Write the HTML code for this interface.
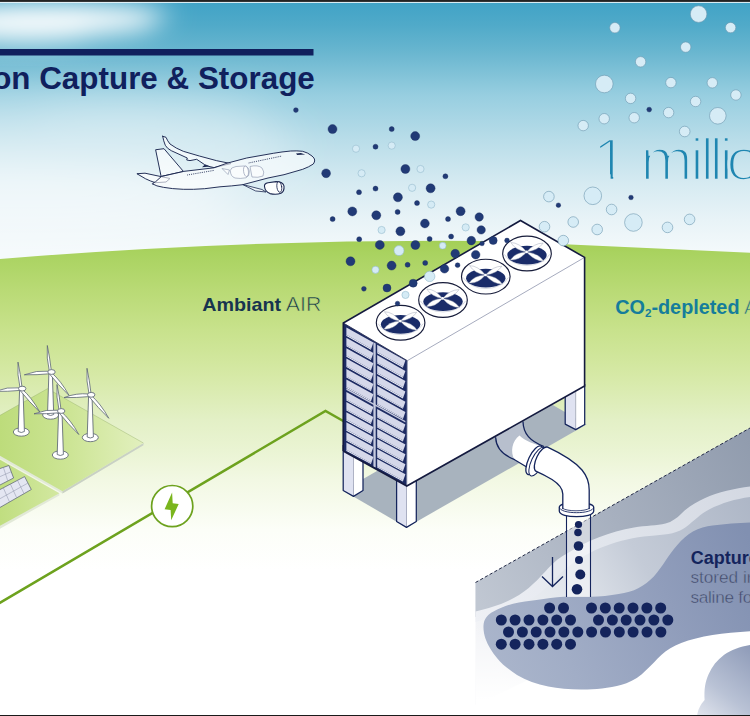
<!DOCTYPE html>
<html lang="en"><head><meta charset="utf-8"><title>Carbon Capture &amp; Storage</title>
<style>html,body{margin:0;padding:0;background:#fff;overflow:hidden}svg{display:block}</style></head>
<body>
<svg width="750" height="716" viewBox="0 0 750 716">
<defs>
<linearGradient id="sky" gradientUnits="userSpaceOnUse" x1="0" y1="0" x2="0" y2="250">
<stop offset="0" stop-color="#3fa2c6"/><stop offset="0.1" stop-color="#50aac9"/><stop offset="0.2" stop-color="#67b5cf"/><stop offset="0.3" stop-color="#82c3d8"/><stop offset="0.38" stop-color="#97cee0"/><stop offset="0.56" stop-color="#b9dde9"/><stop offset="0.74" stop-color="#d7ebf2"/><stop offset="0.88" stop-color="#e8f3f7"/><stop offset="1" stop-color="#f3f9fb"/>
</linearGradient>
<linearGradient id="sky1" href="#sky"/>
<linearGradient id="grass" gradientUnits="userSpaceOnUse" x1="0" y1="241" x2="0" y2="571">
<stop offset="0" stop-color="#a4cf57"/><stop offset="0.042" stop-color="#aad361"/><stop offset="0.148" stop-color="#b9da75"/><stop offset="0.27" stop-color="#c8e28c"/><stop offset="0.406" stop-color="#d6e9a6"/><stop offset="0.542" stop-color="#e3f0c6"/><stop offset="0.633" stop-color="#eaf4d3"/><stop offset="0.724" stop-color="#f2f8e3"/><stop offset="0.876" stop-color="#fcfef8"/><stop offset="1" stop-color="#ffffff"/>
</linearGradient>
<filter id="blur12" x="-50%" y="-50%" width="200%" height="200%"><feGaussianBlur stdDeviation="12"/></filter>
<filter id="blur25" x="-50%" y="-100%" width="200%" height="300%"><feGaussianBlur stdDeviation="22"/></filter>
<linearGradient id="plat" gradientUnits="userSpaceOnUse" x1="0" y1="0" x2="143" y2="0">
<stop offset="0" stop-color="#bddc7b"/><stop offset="0.5" stop-color="#cde596"/><stop offset="1" stop-color="#e2f0be"/>
</linearGradient>
<linearGradient id="plat2" gradientUnits="userSpaceOnUse" x1="0" y1="0" x2="60" y2="0">
<stop offset="0" stop-color="#c0de80"/><stop offset="1" stop-color="#d3e8a1"/>
</linearGradient>
<filter id="blur6" x="-50%" y="-50%" width="200%" height="200%"><feGaussianBlur stdDeviation="6"/></filter>
<linearGradient id="ug" gradientUnits="userSpaceOnUse" x1="750" y1="490" x2="480" y2="640">
<stop offset="0" stop-color="#adb6c6"/><stop offset="0.42" stop-color="#c4cbd7"/><stop offset="0.69" stop-color="#e3e7ed"/><stop offset="1" stop-color="#f3f4f7"/>
</linearGradient>
<linearGradient id="ugA" gradientUnits="userSpaceOnUse" x1="750" y1="440" x2="476" y2="596">
<stop offset="0" stop-color="#919cae"/><stop offset="0.5" stop-color="#a7b0bf"/><stop offset="1" stop-color="#c0c7d2"/>
</linearGradient>
<linearGradient id="ugfade" gradientUnits="userSpaceOnUse" x1="0" y1="625" x2="0" y2="700">
<stop offset="0" stop-color="#fff" stop-opacity="0"/><stop offset="1" stop-color="#fff" stop-opacity="1"/>
</linearGradient>
<linearGradient id="ugband" gradientUnits="userSpaceOnUse" x1="750" y1="480" x2="480" y2="630">
<stop offset="0" stop-color="#d3d8e2"/><stop offset="0.5" stop-color="#e1e5ec"/><stop offset="1" stop-color="#eef0f5"/>
</linearGradient>
<linearGradient id="blob" gradientUnits="userSpaceOnUse" x1="750" y1="540" x2="490" y2="660">
<stop offset="0" stop-color="#8190b1"/><stop offset="0.35" stop-color="#909dbb"/><stop offset="0.75" stop-color="#a1adc6"/><stop offset="1" stop-color="#aab5cb"/>
</linearGradient>
<linearGradient id="blob2" gradientUnits="userSpaceOnUse" x1="750" y1="640" x2="690" y2="716">
<stop offset="0" stop-color="#8b98b6"/><stop offset="0.6" stop-color="#b9c2d5"/><stop offset="1" stop-color="#e6e9f0"/>
</linearGradient>
<g id="fan"><ellipse cx="0" cy="0" rx="24.3" ry="17.4" fill="#fff" stroke="#171c3a" stroke-width="1.15"/><path d="M-22.6,3.5 A24.3,17.4 0 0 0 22.6,3.5" fill="none" stroke="#b9bdcc" stroke-width="0.6" transform="translate(0,-2.6)"/><ellipse cx="0" cy="1.6" rx="19.7" ry="9.4" fill="#1a2c69"/><g fill="#fff" stroke="#9aa0b4" stroke-width="0.45"><path d="M-0.4,-1.6 Q-7.4,-10.7 -16.2,-11.0 Q-11.7,-3.4 -0.4,-1.6Z"/><path d="M-0.4,-1.6 Q7.4,7.6 16.6,7.6 Q11.6,-0.1 -0.4,-1.6Z"/><path d="M-0.4,-1.6 Q11.1,-3.0 16.1,-10.4 Q7.2,-10.4 -0.4,-1.6Z"/><path d="M-0.4,-1.6 Q-11.8,-1.1 -16.6,6.4 Q-7.8,7.2 -0.4,-1.6Z"/></g><circle cx="-0.4" cy="-1.6" r="1.3" fill="#fff"/></g>
</defs>
<rect x="0" y="0" width="750" height="716" fill="url(#sky)"/>
<g filter="url(#blur12)" fill="#fff"><ellipse cx="45" cy="20" rx="115" ry="17" opacity="0.95"/><ellipse cx="20" cy="32" rx="75" ry="13" opacity="0.6"/><ellipse cx="115" cy="14" rx="60" ry="9" opacity="0.5"/></g>
<g filter="url(#blur25)" fill="#fff"><ellipse cx="40" cy="150" rx="260" ry="50" opacity="0.35"/><ellipse cx="0" cy="205" rx="240" ry="40" opacity="0.45"/><ellipse cx="150" cy="112" rx="120" ry="14" opacity="0.3"/></g>
<path d="M0,259 Q220,240.7 440,240.7 Q520,240.7 570,244.5 Q660,248.6 750,252.8 L750,716 L0,716Z" fill="url(#grass)"/>
<rect x="0" y="49" width="313.5" height="6.5" fill="#10205d"/>
<text x="314.8" y="89" text-anchor="end" font-family="'Liberation Sans', sans-serif" font-weight="bold" font-size="31.5" fill="#10205d" textLength="394.2" lengthAdjust="spacingAndGlyphs">Carbon Capture &amp; Storage</text>
<g id="plane" stroke="#1b2750" stroke-width="0.95" fill="#ffffff" fill-opacity="0.62" stroke-linejoin="round" stroke-linecap="round">
<path d="M162.7,136.3 L166,137.3 Q167.5,141 170,144 Q176,148.5 183.3,151.3 L199.3,156 L216.7,160.7 L231,163.6 L214,167.6 L210,166.7 L204.7,164.7 L196.7,159.3 L190,160.6 L186.7,160 L187.3,158 L171.3,150.7 Q167,148.5 165.3,145.3 Q163.5,141 162.7,136.3Z"/>
<path d="M156,149.7 L164,148.7 L183.5,171.5 L161.5,176.4Z"/>
<path d="M137.3,173.7 L145,173.2 L170,178.5 L166,182 L155.3,182.7 Q150,181 146,179Z"/>
<path d="M152.7,184 Q156,186.2 163.3,187.3 Q172,188.9 183.3,189.3 Q193,189.6 204.7,188.7 L220,186.8 Q232,186 242.7,184.7 L268,178 L284,174.7 L302.7,169.3 Q309,167 313.3,164 Q314.8,162 314.7,160 Q314.5,158 312,156 Q308,152.6 302.7,151.3 Q297,150.6 290.7,151 Q282,151.8 273.3,153.3 L246.7,158 L227,163.2 L214,167.8 L183.5,171.4 L161.5,176.4 L155.5,181.8 Q152,182.8 152.7,184Z"/>
<path d="M243,184.6 L262,189.5 L266,192 L256,191Z" stroke-width="0.8"/>
<path d="M264.5,186.5 Q264,183.5 268,182.7 L276,181.6 Q283,181.6 284,186 Q284.5,191.5 281,193.3 Q276,195 270,193.6 Q265,191.5 264.5,186.5Z" stroke-width="1.1" fill-opacity="0.9"/>
<ellipse cx="279.3" cy="187" rx="2.4" ry="5.4" transform="rotate(-8 279.3 187)" stroke-width="0.8"/>
</g>
<g stroke="#7d88a3" stroke-width="0.55" fill="#fff" fill-opacity="0.55" stroke-linejoin="round">
<path d="M250,166.5 Q258,164.5 262,168 Q265,172 263,176 Q258,178 252,177Z"/>
<path d="M230.3,170.5 Q230.5,167.5 236,166.5 L244,166 Q249,167 249.3,171.5 Q249.5,176.5 246,177.8 Q240,179 235,178 Q230.5,176.5 230.3,170.5Z"/>
<ellipse cx="246" cy="171.2" rx="2.4" ry="5.4" transform="rotate(-8 246 171.2)"/>
<path d="M222,168.5 L229.5,170 L228,174.5Z"/>
</g>
<g stroke="#1b2750" stroke-width="1" stroke-dasharray="0.8 1.1" fill="none">
<path d="M187.3,175 L214,170.4"/><path d="M248.7,163 L282,156"/>
</g>
<path d="M296,153.6 l4.8,-0.7 l4.4,1.6 l-8,0.6z" fill="#1b2750"/>
<path d="M202,167.2 L210,166.6 L204.7,164.8Z" fill="#1b2750"/>
<g id="farm">
<path d="M47.5,388.5 L143.4,443 L143.4,445.2 L62.5,493.6 L-5,455.4 L-5,418Z" fill="#e2e9d8"/>
<path d="M143.4,443 L143.4,445.2 L62.5,493.6 L62.5,491.3Z" fill="#c9d1c4"/>
<path d="M47.5,388.5 L143.4,443 L62.5,491.3 L-5,453 L-5,418Z" fill="url(#plat)"/>
<path d="M-5,418.2 L47.5,388.7 L143.4,443" fill="none" stroke="#9bb56c" stroke-width="0.6" stroke-opacity="0.75"/>
<path d="M-5,457 L59.3,493.2 L59.3,495.4 L-5,531.5Z" fill="#e2e9d8"/>
<path d="M-5,457 L59.3,493.2 L-5,528.5Z" fill="url(#plat2)"/>
</g>
<g fill="#e4e6f2" stroke="#555c6e" stroke-width="0.7">
<path d="M-2,469.2 L8.9,465.5 L13.6,478 L-2,486Z"/>
<path d="M-2,490.6 L24.6,476.6 L31.3,489.5 L-2,508.6Z"/>
</g>
<g stroke="#8b90a6" stroke-width="0.5" fill="none">
<path d="M3.4,467.4 L7.8,481 M-2,477.5 L11.2,471.7"/>
<path d="M3.3,487.8 L9.5,502 M10.4,484.1 L16.7,497.8 M17.5,480.4 L24,493.6 M-2,499.8 L28,483"/>
</g>
<g id="turbines"><ellipse cx="50.599999999999994" cy="415" rx="8" ry="4.2" fill="#fff" stroke="#5c6673" stroke-width="0.85"/><path d="M48.9,373 L47.5,414.5 Q50.599999999999994,416.5 53.699999999999996,414.5 L52.3,373Z" fill="#fff" stroke="#5c6673" stroke-width="0.85"/><path d="M49.3,371 Q46.3,358 47.3,345.5 Q49.9,358 51.3,370.5Z" fill="#fff" stroke="#5c6673" stroke-width="0.8"/><path d="M49.3,371.2 Q36.3,370.0 24.299999999999997,374.8 Q37.3,375.0 49.3,373.8Z" fill="#fff" stroke="#5c6673" stroke-width="0.8"/><path d="M51.099999999999994,372.3 Q60.9,380.6 69.1,395.5 Q57.9,384.6 49.5,374.0Z" fill="#fff" stroke="#5c6673" stroke-width="0.8"/><ellipse cx="51.5" cy="372" rx="3.7" ry="2.4" fill="#fff" stroke="#5c6673" stroke-width="0.85"/><ellipse cx="21.3" cy="432" rx="8" ry="4.2" fill="#fff" stroke="#5c6673" stroke-width="0.85"/><path d="M19.6,389.6 L18.2,431.5 Q21.3,433.5 24.4,431.5 L23.0,389.6Z" fill="#fff" stroke="#5c6673" stroke-width="0.85"/><path d="M20.0,387.6 Q17.0,374.6 18,362.1 Q20.6,374.6 22.0,387.1Z" fill="#fff" stroke="#5c6673" stroke-width="0.8"/><path d="M20,387.8 Q7,386.6 -5,391.40000000000003 Q8,391.6 20,390.40000000000003Z" fill="#fff" stroke="#5c6673" stroke-width="0.8"/><path d="M21.8,388.90000000000003 Q31.6,397.20000000000005 39.8,412.1 Q28.6,401.20000000000005 20.2,390.6Z" fill="#fff" stroke="#5c6673" stroke-width="0.8"/><ellipse cx="22.2" cy="388.6" rx="3.7" ry="2.4" fill="#fff" stroke="#5c6673" stroke-width="0.85"/><ellipse cx="90.3" cy="437.5" rx="8" ry="4.2" fill="#fff" stroke="#5c6673" stroke-width="0.85"/><path d="M88.6,395.8 L87.2,437.0 Q90.3,439.0 93.4,437.0 L92.0,395.8Z" fill="#fff" stroke="#5c6673" stroke-width="0.85"/><path d="M89.0,393.8 Q86.0,380.8 87,368.3 Q89.6,380.8 91.0,393.3Z" fill="#fff" stroke="#5c6673" stroke-width="0.8"/><path d="M89,394.0 Q76,392.8 64,397.6 Q77,397.8 89,396.6Z" fill="#fff" stroke="#5c6673" stroke-width="0.8"/><path d="M90.8,395.1 Q100.6,403.40000000000003 108.8,418.3 Q97.6,407.40000000000003 89.2,396.8Z" fill="#fff" stroke="#5c6673" stroke-width="0.8"/><ellipse cx="91.2" cy="394.8" rx="3.7" ry="2.4" fill="#fff" stroke="#5c6673" stroke-width="0.85"/><ellipse cx="60.3" cy="455" rx="8" ry="4.2" fill="#fff" stroke="#5c6673" stroke-width="0.85"/><path d="M58.6,412 L57.2,454.5 Q60.3,456.5 63.4,454.5 L62.0,412Z" fill="#fff" stroke="#5c6673" stroke-width="0.85"/><path d="M59.0,410 Q56.0,397 57,384.5 Q59.6,397 61.0,409.5Z" fill="#fff" stroke="#5c6673" stroke-width="0.8"/><path d="M59,410.2 Q46,409.0 34,413.8 Q47,414.0 59,412.8Z" fill="#fff" stroke="#5c6673" stroke-width="0.8"/><path d="M60.8,411.3 Q70.6,419.6 78.8,434.5 Q67.6,423.6 59.2,413.0Z" fill="#fff" stroke="#5c6673" stroke-width="0.8"/><ellipse cx="61.2" cy="411" rx="3.7" ry="2.4" fill="#fff" stroke="#5c6673" stroke-width="0.85"/></g>
<path d="M-2,604 L325.5,411 L345,422" fill="none" stroke="#6da21e" stroke-width="2.5" stroke-linejoin="miter"/>
<circle cx="172.2" cy="506.1" r="20.6" fill="#fff" stroke="#6da21e" stroke-width="1.7"/>
<path d="M172.1,492.6 L164.6,509.2 L170.6,510 L171.2,520.2 L178.7,504 L172.7,503.3Z" fill="#7ab51d"/>
<g id="underground">
<path d="M475.5,582.5 L750,428 L750,716 L475.5,716Z" fill="#fff"/>
<path d="M475.5,582.5 L750,428 L750,615 L640,645 L560,665 L475.5,705Z" fill="url(#ug)"/>
<path d="M475.5,600 L750,600 L750,716 L475.5,716Z" fill="url(#ugfade)"/>
<path d="M475.5,582.5 L750,428 L750,492 C735,494 722,498 710,504 C700,509 694,516 686,522 C678,528 668,529.5 655,530.5 C640,531.5 625,534 611,539 C596,544 583,551 573,558 C563,565 556,573 548,581 C540,589 530,595 519,601 C508,607 495,610 485,614 L475.5,617Z" fill="url(#ugA)"/>
<path d="M475.5,611.6 C485,609 493,607 501,604 C512,600 521,594 528.7,588 C537,581 542,575 548,568.6 C554,562 560,557 567.8,553 C578,547 588,541 599,537.3 C610,533 622,529.5 634,527.5 C646,525.5 657,526 665.5,523.6 C672,521.5 677,518 681,513.9 C688,507 696,502 704.6,498.2 C718,492 735,488.5 750,486.5 L750,497 C735,499 722,503 710,509 C700,514 694,521 686,527 C678,533 668,534.5 655,535.5 C640,536.5 625,539 611,544 C596,549 583,556 573,563 C563,570 556,578 548,586 C540,594 530,600 519,606 C508,612 495,615 485,619 L475.5,622Z" fill="url(#ugband)"/>
<path d="M483.7,623.4 C485,618 488,614.5 493.5,611.6 C499,608.5 506,605.5 513,603.8 C521,601.8 529,600.8 536.5,600 C546,598.8 555,597.2 563.9,596.8 C573,596.4 582,597 591.2,596.8 C600,596.6 610,595.6 618.6,594 C626,592.6 633,591 638.2,588.2 C644,585 649.5,581 653.8,576.4 C658.5,571.3 662,566 665.5,560.8 C669,555.6 673,550 677.3,545.1 C682,539.5 687,535 692.9,531.5 C699,528 706,526.5 712.5,525.6 C725,523.8 738,523 750,522.5 L750,631.2 C737,632 724,633 712.5,635 C701,637 690,639.5 681.2,643 C673,646.3 667,650 661.6,654.7 C656,659.6 652,665 646,670.3 C640,676.2 634,680.5 626.4,683.2 C614,687.4 600,689 587.3,689.4 C574,689.8 560,689 548.2,686.6 C537,684.2 526,680.5 517,675 C509,669.5 502,664.5 497.4,658.6 C492,652 488,645.5 485.6,639 C483.8,634 483,628 483.7,623.4Z" fill="url(#blob)"/>
<path d="M697,716 C698,710 700,705 704.6,700 C704,690 705,682 708.6,674.2 C712,666.5 717,660 724.2,654.7 C731,649.8 740,646.5 750,644.9 L750,716Z" fill="url(#blob2)"/>
<path d="M475.5,582.5 L750,428" fill="none" stroke="#232a45" stroke-width="1" stroke-dasharray="3.2 2.2"/>
</g>
<rect x="566.5" y="514" width="24" height="83" fill="#fff" fill-opacity="0.45"/>
<path d="M566.5,514 L566.5,597 M590.5,514 L590.5,597" stroke="#14245c" stroke-width="1.1" fill="none"/>
<circle cx="578.5" cy="524.5" r="3.6" fill="#14245c"/>
<circle cx="578" cy="532.5" r="3.8" fill="#14245c"/>
<circle cx="578.5" cy="546" r="4.8" fill="#14245c"/>
<circle cx="579" cy="560" r="4.0" fill="#14245c"/>
<circle cx="580.3" cy="574.5" r="5.0" fill="#14245c"/>
<circle cx="577" cy="589.3" r="5.3" fill="#14245c"/>
<path d="M552.5,557 L552.5,586 M542,576.5 L552.5,586.5 L563,576.5" stroke="#14245c" stroke-width="1.3" fill="none"/>
<g fill="#14245c"><circle cx="549.6" cy="608" r="5.5"/><circle cx="563.5" cy="608" r="5.5"/><circle cx="591.5" cy="608" r="5.5"/><circle cx="605.3" cy="608" r="5.5"/><circle cx="619.2" cy="608" r="5.5"/><circle cx="633.0" cy="608" r="5.5"/><circle cx="646.9" cy="608" r="5.5"/><circle cx="660.7" cy="608" r="5.5"/><circle cx="501.3" cy="620" r="5.5"/><circle cx="515.1" cy="620" r="5.5"/><circle cx="529.0" cy="620" r="5.5"/><circle cx="542.9" cy="620" r="5.5"/><circle cx="556.7" cy="620" r="5.5"/><circle cx="570.5" cy="620" r="5.5"/><circle cx="598.5" cy="620" r="5.5"/><circle cx="612.4" cy="620" r="5.5"/><circle cx="626.2" cy="620" r="5.5"/><circle cx="640.0" cy="620" r="5.5"/><circle cx="653.9" cy="620" r="5.5"/><circle cx="667.8" cy="620" r="5.5"/><circle cx="508.5" cy="632" r="5.5"/><circle cx="522.4" cy="632" r="5.5"/><circle cx="536.2" cy="632" r="5.5"/><circle cx="550.0" cy="632" r="5.5"/><circle cx="563.9" cy="632" r="5.5"/><circle cx="577.8" cy="632" r="5.5"/><circle cx="591.6" cy="632" r="5.5"/><circle cx="605.5" cy="632" r="5.5"/><circle cx="619.3" cy="632" r="5.5"/><circle cx="633.1" cy="632" r="5.5"/><circle cx="647.0" cy="632" r="5.5"/><circle cx="660.9" cy="632" r="5.5"/><circle cx="501.3" cy="644.2" r="5.5"/><circle cx="515.1" cy="644.2" r="5.5"/><circle cx="529.0" cy="644.2" r="5.5"/><circle cx="542.9" cy="644.2" r="5.5"/><circle cx="556.7" cy="644.2" r="5.5"/><circle cx="570.5" cy="644.2" r="5.5"/></g>
<path d="M343,490.5 L406.5,527.4 L586.5,424.5 L522.5,387.6Z" fill="#a8b3be"/>
<g id="pipe" stroke="#14245c" stroke-width="1.3" stroke-linejoin="round" stroke-linecap="round">
<path d="M495.7,430 L495.7,437.7 C496,447 503,455 514.6,459.7 L531,470 L544,446.5 C530,441 523.5,434 523,422 L523,415Z" fill="#b7bfcd" stroke="none"/>
<path d="M514.6,459.7 C510,452 512,441 519.5,435.5 C525,441 534,444.5 544,446.5 L531,470Z" fill="#fff" stroke="none"/>
<path d="M495.7,437.7 C496,447 503,455 514.6,459.7 L530,469" fill="none"/>
<path d="M523,422 C523.5,434 530,441 543.5,446.3" fill="none"/>
<ellipse cx="534.4" cy="460.2" rx="5.9" ry="15.6" transform="rotate(25.3 534.4 460.2)" fill="#fff"/>
<ellipse cx="537.4" cy="461.6" rx="5.9" ry="15.6" transform="rotate(25.3 537.4 461.6)" fill="#fff" stroke-width="1"/>
<path d="M559.3,507.3 C559.3,501 593.7,501 593.7,507.3 L593.7,511 C593.7,518.6 559.3,518.6 559.3,511Z" fill="#fff"/>
<path d="M559.3,507.3 C559.3,514.6 593.7,514.6 593.7,507.3" fill="none" stroke-width="0.9"/>
<path d="M547.6,447.2 C560,453 575,462 582,470 C587,476 589.2,482 589.2,490 L589.2,508.5 C585,511.6 567,511.6 562.8,508.5 L562.8,494 C562.8,488 559,484 552,479.5 C546,476 541,473.5 535.8,471.2 A5.6,13.4 25.3 0 1 547.6,447.2Z" fill="#fff" stroke="none"/>
<path d="M562.8,508.5 L562.8,494 C562.8,488 559,484 552,479.5 C546,476 541,473.5 535.8,471.2 A5.6,13.4 25.3 0 1 547.6,447.2 C560,453 575,462 582,470 C587,476 589.2,482 589.2,490 L589.2,508.5" fill="none"/>
<path d="M562.8,508.5 C567,511.6 585,511.6 589.2,508.5" fill="none" stroke-width="0.8"/>
</g>
<path d="M565.2,390 L575.7,390 L575.7,429.6 L565.2,424.1Z" fill="#dfe2f1"/><path d="M575.7,390 L584.7,384 L584.7,424.5 L575.7,429.6Z" fill="#fff"/><path d="M575.7,390 L575.7,429.6" stroke="#9097b0" stroke-width="0.7" fill="none"/><path d="M565.2,390 L565.2,424.1 L575.7,429.6 L584.7,424.5 L584.7,384" fill="none" stroke="#14245c" stroke-width="1.25" stroke-linejoin="round"/>
<path d="M343.2,445 L353.5,445 L353.5,496.4 L343.2,490.5Z" fill="#dfe2f1"/><path d="M353.5,445 L363,455 L363,490.5 L353.5,496.4Z" fill="#fff"/><path d="M353.5,445 L353.5,496.4" stroke="#9097b0" stroke-width="0.7" fill="none"/><path d="M343.2,445 L343.2,490.5 L353.5,496.4 L363,490.5 L363,455" fill="none" stroke="#14245c" stroke-width="1.25" stroke-linejoin="round"/>
<path d="M396.6,478 L406.5,478 L406.5,527.4 L396.6,521.5Z" fill="#dfe2f1"/><path d="M406.5,478 L416.3,478 L416.3,521.5 L406.5,527.4Z" fill="#fff"/><path d="M406.5,478 L406.5,527.4" stroke="#9097b0" stroke-width="0.7" fill="none"/><path d="M396.6,478 L396.6,521.5 L406.5,527.4 L416.3,521.5 L416.3,478" fill="none" stroke="#14245c" stroke-width="1.25" stroke-linejoin="round"/>
<path d="M343.3,323.0 L520.5,220.5 L584.6,257.4 L584.6,386.0 L406.8,486.0 L343.2,451.0Z" fill="#fff"/>
<path d="M343.3,323.0 L407.3,360.7 L406.8,486.0 L343.2,451.0Z" fill="#1d2b63"/>
<g fill="#c6cadf"><path d="M373.4,342.3 L375.7,343.6 L375.7,467.6 L373.4,466.4Z"/><path d="M346.4,388.3 L405.4,421.0 L405.4,422.6 L346.4,389.9Z"/></g>
<g fill="#eef0f8"><path d="M346.4,334.8 L371.2,348.8 L370.9,349.7 L346.4,335.9Z"/><path d="M346.4,345.2 L371.2,359.1 L370.9,360.0 L346.4,346.3Z"/><path d="M346.4,355.6 L371.2,369.5 L370.9,370.4 L346.4,356.7Z"/><path d="M346.4,366.0 L371.2,379.8 L370.9,380.7 L346.4,367.1Z"/><path d="M346.4,376.4 L371.2,390.2 L370.9,391.1 L346.4,377.5Z"/><path d="M346.4,386.8 L371.2,400.5 L370.9,401.4 L346.4,387.9Z"/><path d="M346.4,399.4 L371.2,413.1 L370.9,414.0 L346.4,400.5Z"/><path d="M346.4,409.5 L371.2,423.1 L370.9,424.0 L346.4,410.6Z"/><path d="M346.4,419.6 L371.2,433.1 L370.9,434.0 L346.4,420.7Z"/><path d="M346.4,429.6 L371.2,443.1 L370.9,444.1 L346.4,430.7Z"/><path d="M346.4,439.7 L371.2,453.1 L370.9,454.1 L346.4,440.8Z"/><path d="M346.4,449.8 L371.2,463.2 L370.9,464.1 L346.4,450.9Z"/><path d="M377.2,352.1 L403.2,366.7 L402.9,367.7 L377.2,353.2Z"/><path d="M377.2,362.5 L403.2,377.0 L402.9,378.0 L377.2,363.6Z"/><path d="M377.2,372.8 L403.2,387.3 L402.9,388.3 L377.2,373.9Z"/><path d="M377.2,383.1 L403.2,397.6 L402.9,398.5 L377.2,384.2Z"/><path d="M377.2,393.5 L403.2,407.9 L402.9,408.8 L377.2,394.6Z"/><path d="M377.2,403.8 L403.2,418.2 L402.9,419.1 L377.2,404.9Z"/><path d="M377.2,416.4 L403.2,430.7 L402.9,431.6 L377.2,417.5Z"/><path d="M377.2,426.4 L403.2,440.6 L402.9,441.6 L377.2,427.5Z"/><path d="M377.2,436.4 L403.2,450.6 L402.9,451.5 L377.2,437.5Z"/><path d="M377.2,446.4 L403.2,460.5 L402.9,461.5 L377.2,447.5Z"/><path d="M377.2,456.4 L403.2,470.5 L402.9,471.4 L377.2,457.5Z"/><path d="M377.2,466.4 L403.2,480.4 L402.9,481.4 L377.2,467.5Z"/></g>
<g fill="#d5d8ea"><path d="M346.4,327.4 L373.4,342.6 L371.2,348.8 L346.4,334.8Z"/><path d="M346.4,337.8 L373.4,352.9 L371.2,359.1 L346.4,345.2Z"/><path d="M346.4,348.2 L373.4,363.3 L371.2,369.5 L346.4,355.6Z"/><path d="M346.4,358.6 L373.4,373.6 L371.2,379.8 L346.4,366.0Z"/><path d="M346.4,369.0 L373.4,384.0 L371.2,390.2 L346.4,376.4Z"/><path d="M346.4,379.4 L373.4,394.3 L371.2,400.5 L346.4,386.8Z"/><path d="M346.4,392.0 L373.4,406.9 L371.2,413.1 L346.4,399.4Z"/><path d="M346.4,402.1 L373.4,416.9 L371.2,423.1 L346.4,409.5Z"/><path d="M346.4,412.2 L373.4,426.9 L371.2,433.1 L346.4,419.6Z"/><path d="M346.4,422.2 L373.4,436.9 L371.2,443.1 L346.4,429.6Z"/><path d="M346.4,432.3 L373.4,446.9 L371.2,453.1 L346.4,439.7Z"/><path d="M346.4,442.4 L373.4,456.9 L371.2,463.2 L346.4,449.8Z"/><path d="M377.2,344.7 L405.4,360.6 L403.2,366.7 L377.2,352.1Z"/><path d="M377.2,355.1 L405.4,370.9 L403.2,377.0 L377.2,362.5Z"/><path d="M377.2,365.4 L405.4,381.1 L403.2,387.3 L377.2,372.8Z"/><path d="M377.2,375.7 L405.4,391.4 L403.2,397.6 L377.2,383.1Z"/><path d="M377.2,386.1 L405.4,401.7 L403.2,407.9 L377.2,393.5Z"/><path d="M377.2,396.4 L405.4,412.0 L403.2,418.2 L377.2,403.8Z"/><path d="M377.2,409.0 L405.4,424.5 L403.2,430.7 L377.2,416.4Z"/><path d="M377.2,419.0 L405.4,434.4 L403.2,440.6 L377.2,426.4Z"/><path d="M377.2,429.0 L405.4,444.4 L403.2,450.6 L377.2,436.4Z"/><path d="M377.2,439.0 L405.4,454.3 L403.2,460.5 L377.2,446.4Z"/><path d="M377.2,449.0 L405.4,464.3 L403.2,470.5 L377.2,456.4Z"/><path d="M377.2,459.0 L405.4,474.2 L403.2,480.4 L377.2,466.4Z"/></g>
<path d="M407.3,360.7 L584.6,257.4" stroke="#8f96ad" stroke-width="0.8" fill="none"/>
<path d="M407.3,360.7 L406.8,486.0" stroke="#8f96ad" stroke-width="0.8" fill="none"/>
<path d="M343.3,323.0 L407.3,360.7" stroke="#2a3155" stroke-width="0.9" fill="none"/>
<path d="M343.2,451.0 L343.3,323.0 L520.5,220.5 L584.6,257.4 L584.6,386.0 L406.8,486.0 L343.2,451.0" fill="none" stroke="#141a3f" stroke-width="1.6" stroke-linejoin="miter"/>
<use href="#fan" x="400.6" y="322.7"/>
<use href="#fan" x="443" y="300"/>
<use href="#fan" x="485.8" y="276.6"/>
<use href="#fan" x="527" y="253.5"/>
<g fill="#213a76" stroke="#1a2e60" stroke-width="0.4"><circle cx="295.9" cy="110.1" r="2.4"/><circle cx="332.5" cy="129.1" r="4.5"/><circle cx="391.7" cy="129.1" r="2.5"/><circle cx="415.2" cy="136.1" r="4.5"/><circle cx="375.5" cy="146.7" r="2.5"/><circle cx="326.1" cy="173.3" r="4.4"/><circle cx="405.4" cy="169" r="4.5"/><circle cx="445.4" cy="176.3" r="2.5"/><circle cx="375.5" cy="188.6" r="2.5"/><circle cx="359" cy="192.2" r="2.5"/><circle cx="430.6" cy="188.3" r="4.5"/><circle cx="397.9" cy="197.3" r="4.5"/><circle cx="417" cy="203.1" r="2.5"/><circle cx="352.3" cy="211.4" r="4.5"/><circle cx="376.3" cy="215.3" r="4.5"/><circle cx="397.6" cy="211.9" r="2.5"/><circle cx="332.6" cy="219.1" r="2.5"/><circle cx="460.6" cy="211.2" r="4.5"/><circle cx="448" cy="219.1" r="2.5"/><circle cx="424.9" cy="223.5" r="4.4"/><circle cx="400.4" cy="231.3" r="4.5"/><circle cx="479.2" cy="217" r="4.2"/><circle cx="481.2" cy="229.9" r="4.2"/><circle cx="359.2" cy="239.2" r="2.5"/><circle cx="379.8" cy="244.9" r="4.5"/><circle cx="415.4" cy="245" r="4.5"/><circle cx="429.6" cy="238.9" r="2.5"/><circle cx="451.1" cy="236.5" r="2.5"/><circle cx="471.3" cy="240.6" r="4.3"/><circle cx="493.2" cy="240.5" r="4.0"/><circle cx="507" cy="240.5" r="2.4"/><circle cx="482" cy="243.5" r="2.3"/><circle cx="455.2" cy="253.6" r="4.3"/><circle cx="475.7" cy="254.7" r="4.3"/><circle cx="350.5" cy="261.3" r="4.5"/><circle cx="391.6" cy="265.6" r="4.5"/><circle cx="407.6" cy="264.8" r="2.5"/><circle cx="425.2" cy="262.9" r="2.5"/><circle cx="444.5" cy="268.8" r="4.3"/><circle cx="457.6" cy="265.2" r="2.4"/><circle cx="413.2" cy="283.2" r="4.0"/><circle cx="387" cy="288" r="4.0"/><circle cx="363.9" cy="288.8" r="2.4"/><circle cx="397.5" cy="303.5" r="2.3"/><circle cx="649.2" cy="109.6" r="2.4"/><circle cx="631" cy="197.5" r="2.3"/><circle cx="558.4" cy="205.2" r="2.3"/></g>
<g fill="#d5ebf5" stroke="#94bbcd" stroke-width="0.6"><circle cx="356" cy="148.7" r="3.6"/><circle cx="391.7" cy="145.6" r="3.6"/><circle cx="361.6" cy="173.3" r="3.6"/><circle cx="420.5" cy="169" r="3.6"/><circle cx="412.1" cy="187.8" r="3.6"/><circle cx="431.2" cy="204.6" r="3.6"/><circle cx="381.6" cy="230" r="3.6"/><circle cx="465.7" cy="227.4" r="3.6"/><circle cx="399" cy="250.6" r="5"/><circle cx="442.7" cy="245.7" r="3.4"/><circle cx="375.5" cy="269.8" r="3.6"/><circle cx="429.7" cy="276.4" r="5.2"/><circle cx="405.5" cy="294.9" r="3.6"/></g>
<g fill="#d6ecf6" stroke="#6d97ae" stroke-width="0.6"><circle cx="698.6" cy="14.1" r="8.3"/><circle cx="614.9" cy="27.7" r="5.2"/><circle cx="730.6" cy="27.6" r="5.2"/><circle cx="685.7" cy="47.1" r="5.2"/><circle cx="640.6" cy="61.8" r="5.2"/><circle cx="604.3" cy="84" r="8.8"/><circle cx="670.9" cy="82.6" r="5.2"/><circle cx="712.3" cy="82.8" r="5.2"/><circle cx="630.6" cy="98.4" r="5.2"/><circle cx="735.9" cy="95" r="5.2"/><circle cx="695.6" cy="101.5" r="5.2"/><circle cx="668.6" cy="112.6" r="5.2"/><circle cx="634.2" cy="117.7" r="5.2"/><circle cx="604.2" cy="118.7" r="5.2"/><circle cx="717.8" cy="115.8" r="8.3"/><circle cx="583.2" cy="125.6" r="5.2"/><circle cx="684.7" cy="131.5" r="5.3"/><circle cx="592.8" cy="195.8" r="8.8"/><circle cx="548.9" cy="196.6" r="5.3"/><circle cx="611.6" cy="209.5" r="5.3"/><circle cx="573.2" cy="222" r="5.3"/><circle cx="544.5" cy="226.7" r="5.3"/><circle cx="597.2" cy="229.5" r="5.3"/><circle cx="633.4" cy="222.5" r="8.8"/><circle cx="667.5" cy="227.4" r="5.3"/><circle cx="689.6" cy="219.4" r="5.3"/><circle cx="563.3" cy="240.6" r="5.3"/></g>
<text y="180" transform="scale(1.05,1)" font-family="'Liberation Sans', sans-serif" font-size="60" fill="#1f86b1" stroke="url(#sky1)" stroke-width="2.7" x="564.6 590 609.7 657.1 666.9 675.6 685.1 691.7 740 780">1 million</text>
<rect x="594" y="174.3" width="16.6" height="7.5" fill="url(#sky)"/><rect x="613.2" y="174.3" width="11.8" height="7.5" fill="url(#sky)"/>
<text x="202.3" y="311" font-family="'Liberation Sans', sans-serif" font-size="19" font-weight="bold" fill="#17344f" textLength="78.8" lengthAdjust="spacingAndGlyphs">Ambiant</text>
<text x="285.8" y="311" font-family="'Liberation Sans', sans-serif" font-size="19.5" fill="#1a3648" stroke="url(#grass)" stroke-width="0.6" textLength="35.5" lengthAdjust="spacingAndGlyphs">AIR</text>
<text x="615.2" y="313.8" font-family="'Liberation Sans', sans-serif" font-size="19.6" font-weight="bold" fill="#157d9b" textLength="124.3" lengthAdjust="spacingAndGlyphs">CO<tspan font-size="11.5" dy="3.6">2</tspan><tspan dy="-3.6">-depleted</tspan></text>
<text x="744" y="313.8" font-family="'Liberation Sans', sans-serif" font-size="19.6" fill="#2c6f80" stroke="url(#grass)" stroke-width="0.6">AIR</text>
<text x="690.8" y="563.8" font-family="'Liberation Sans', sans-serif" font-size="18" font-weight="bold" fill="#14245c">Captured</text>
<text x="690.4" y="582.9" font-family="'Liberation Sans', sans-serif" font-size="17.2" fill="#3f4768" stroke="url(#blob)" stroke-width="0.45">stored in</text>
<text x="690.4" y="602.8" font-family="'Liberation Sans', sans-serif" font-size="17.2" fill="#3f4768" stroke="url(#blob)" stroke-width="0.45" letter-spacing="-0.25">saline formations</text>
<rect x="0" y="0" width="750" height="2.9" fill="#e9f4f9"/><rect x="0" y="0" width="750" height="1.9" fill="#222"/>
<rect x="0" y="715" width="750" height="1" fill="#1a1a1a"/>
</svg>
</body></html>
